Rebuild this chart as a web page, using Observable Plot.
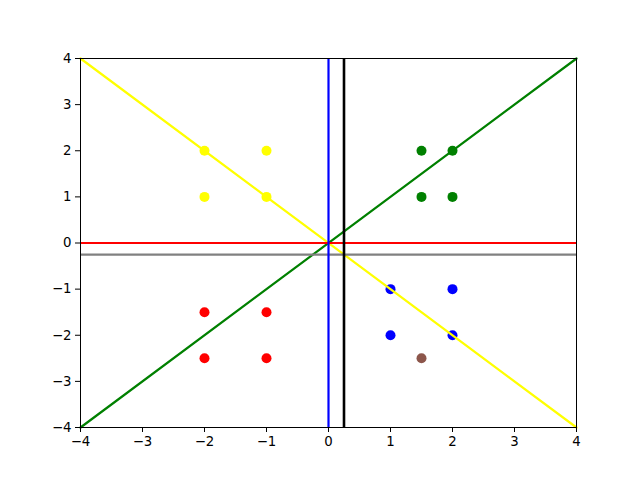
<!DOCTYPE html>
<html><head><meta charset="utf-8">
<script src="https://cdn.jsdelivr.net/npm/d3@7"></script>
<script src="https://cdn.jsdelivr.net/npm/@observablehq/plot@0.6"></script>
<style>body{margin:0;background:#fff}</style>
</head><body><div id="chart"></div>
<script>
const pointsX = [-2, -2, -1, -1, 1.5, 2, 1.5, 2, -2, -1, -2, -1, 1, 2, 1, 2, 1.5];
const pointsY = [2, 1, 2, 1, 2, 2, 1, 1, -1.5, -1.5, -2.5, -2.5, -1, -1, -2, -2, -2.5];
const pointColors = ["yellow","yellow","yellow","yellow","green","green","green","green","red","red","red","red","blue","blue","blue","blue","#8c564b"];
const ticks = [-4, -3, -2, -1, 0, 1, 2, 3, 4];
const diagX = [-4, 4];
const greenY = [-4, 4];
const yellowY = [4, -4];
const hLines = [0, -0.25];
const hColors = ["red", "gray"];
const vLines = [0, 0.25];
const vColors = ["blue", "black"];

const pts = pointsX.map((x, i) => ({x, y: pointsY[i], c: pointColors[i]}));
const green = diagX.map((x, i) => ({x, y: greenY[i]}));
const yellow = diagX.map((x, i) => ({x, y: yellowY[i]}));
const fmt = d => d < 0 ? "\u2212" + Math.abs(d) : String(d);

const plot = Plot.plot({
  width: 640, height: 480,
  marginLeft: 80, marginRight: 64, marginTop: 58, marginBottom: 53,
  style: {fontFamily: "DejaVu Sans", fontSize: "13.3px", color: "black", background: "white"},
  x: {domain: [-4, 4], label: null},
  y: {domain: [-4, 4], label: null},
  marks: [
    Plot.dot(pts, {x: "x", y: "y", r: 5, fill: d => d.c, stroke: "none"}),
    Plot.line(yellow, {x: "x", y: "y", stroke: "yellow", strokeWidth: 2.2}),
    Plot.line(green, {x: "x", y: "y", stroke: "green", strokeWidth: 2.2}),
    Plot.ruleY([hLines[0]], {stroke: hColors[0], strokeWidth: 2.2}),
    Plot.ruleY([hLines[1]], {stroke: hColors[1], strokeWidth: 2.2}),
    Plot.ruleX([vLines[0]], {stroke: vColors[0], strokeWidth: 2.2}),
    Plot.ruleX([vLines[1]], {stroke: vColors[1], strokeWidth: 2.6}),
    Plot.frame({stroke: "black", strokeWidth: 1}),
    Plot.axisX({ticks, tickFormat: fmt, tickSize: 5, tickPadding: 4, label: null}),
    Plot.axisY({ticks, tickFormat: fmt, tickSize: 5, tickPadding: 4, label: null})
  ]
});
document.getElementById("chart").appendChild(plot);
</script></body></html>
